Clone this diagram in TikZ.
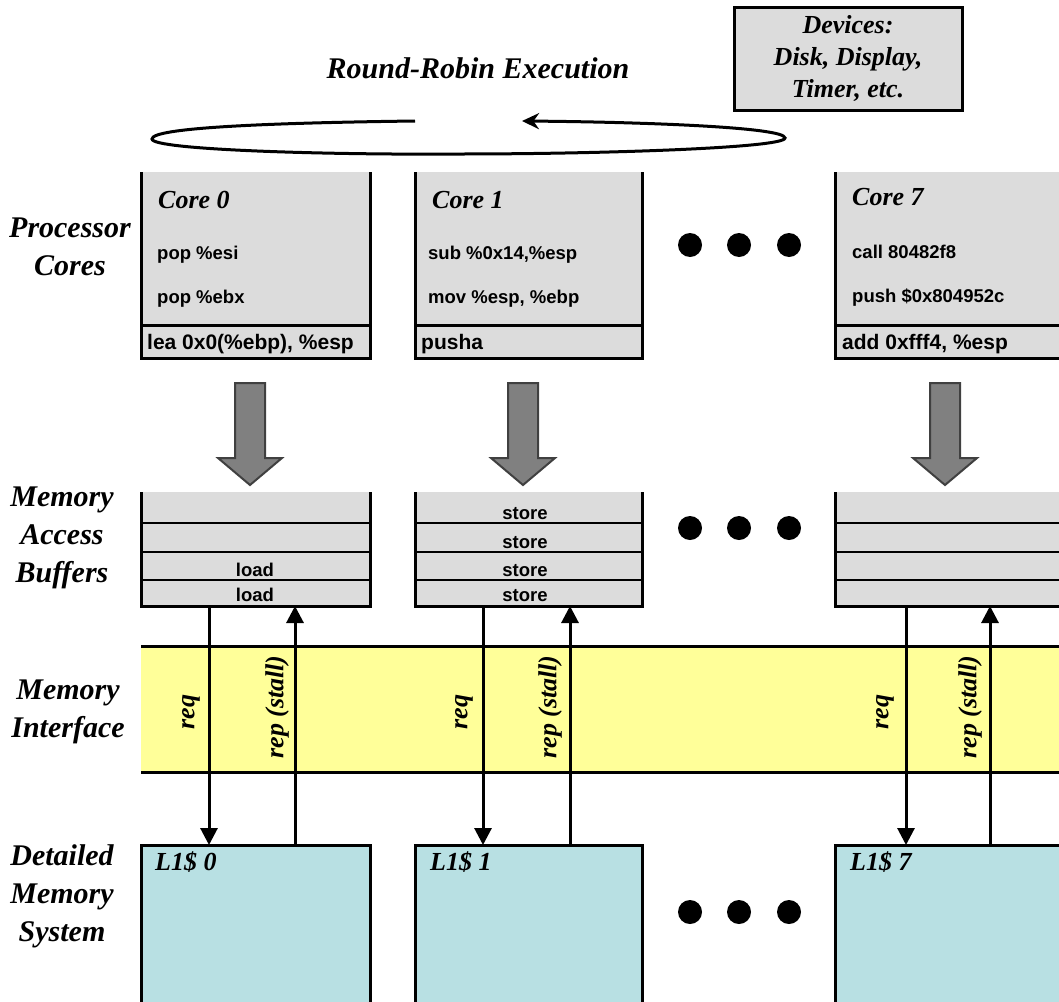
\documentclass[tikz,border=0pt]{standalone}
\usepackage{fontspec}
\setmainfont{Liberation Serif}
\setsansfont{Liberation Sans}
\usepackage{tikz}
\usetikzlibrary{positioning, arrows.meta}
\usepackage{xcolor}

\definecolor{boxgray}{RGB}{220,220,220}
\definecolor{arrowgray}{RGB}{128,128,128}
\definecolor{ifyellow}{RGB}{255,255,153}
\definecolor{cachecyan}{RGB}{184,224,227}

\newcommand\lblfont{\bfseries\itshape\fontsize{26}{32}\selectfont}
\newcommand\sidefont{\bfseries\itshape\fontsize{30}{38}\selectfont}
\newcommand\codefont{\sffamily\bfseries\fontsize{18.5}{22}\selectfont}
\newcommand\insfont{\sffamily\bfseries\fontsize{21}{24}\selectfont}

\tikzset{
  edge/.style={line width=3pt},
  rowline/.style={line width=2pt},
  corefill/.style={fill=boxgray, inner sep=0pt, outer sep=0pt, anchor=north west, minimum width=229pt, minimum height=153pt},
  instrfill/.style={fill=boxgray, inner sep=0pt, outer sep=0pt, anchor=north west, minimum width=229pt, minimum height=33pt},
  buffill/.style={fill=boxgray, inner sep=0pt, outer sep=0pt, anchor=north west, minimum width=229pt, minimum height=114pt},
  cachebox/.style={fill=cachecyan, draw, line width=3pt, inner sep=0pt, outer sep=0pt, anchor=north west, minimum width=229pt, minimum height=190pt},
  devbox/.style={fill=boxgray, draw, line width=3pt, align=center, font=\lblfont, minimum width=228pt, minimum height=103pt},
  corelbl/.style={font=\lblfont, anchor=base west, inner sep=0pt},
  sidelbl/.style={font=\sidefont, align=center, inner sep=0pt},
  code/.style={font=\codefont, anchor=base west, inner sep=0pt},
  instext/.style={font=\insfont, anchor=base west, inner sep=0pt},
  buftext/.style={font=\codefont, anchor=base, inner sep=0pt},
  sigtext/.style={font=\lblfont, rotate=90, inner sep=0pt},
  sig/.style={line width=3pt, -{Triangle[length=17pt, width=17pt]}},
  bigarrow/.style={fill=arrowgray, draw=black!75, line width=2pt, line join=miter},
  dot/.style={circle, fill=black, inner sep=0pt, minimum size=24pt},
  rrloop/.style={line width=3pt, -{Stealth[length=17pt, width=16pt]}}
}

\begin{document}
\begin{tikzpicture}[x=1pt, y=-1pt]
\useasboundingbox (0,0) rectangle (1059,1001);

% round robin
\node[font=\bfseries\itshape\fontsize{30}{34}\selectfont, inner sep=0pt] (rr) at (478,68) {Round-Robin Execution};
\draw[rrloop] (415,121) .. controls (260,123) and (152,128) .. (152,139)
  .. controls (152,150) and (330,155) .. (460,154)
  .. controls (600,154) and (785,148) .. (785,138)
  .. controls (785,127) and (640,122) .. (522,121);
\node[devbox] (dev) at (848,58.5) {Devices:\\Disk, Display,\\Timer, etc.};

% row labels
\node[sidelbl] (lpc) at (70,247) {Processor\\Cores};
\node[sidelbl] (lmab) at (62,538) {Memory\\Access\\Buffers};
\node[sidelbl] (lmi) at (68,712) {Memory\\Interface};
\node[sidelbl] (ldms) at (62,896) {Detailed\\Memory\\System};

% core 0
\node[corefill] (core0) at (141,172) {};
\node[instrfill] (ins0) at (core0.south west) {};
\draw[edge] (core0.north west) -- (ins0.south west) -- (ins0.south east) -- (core0.north east);
\draw[edge] (ins0.north west) -- (ins0.north east);
\node[corelbl] (n0) at (158,208) {Core 0};
\node[code] (c0a) at (157,259) {pop \%esi};
\node[code] (c0b) at (157,303) {pop \%ebx};
\node[instext] (c0c) at (147,349) {lea 0x0(\%ebp), \%esp};

% core 1
\node[corefill, minimum width=227pt] (core1) at (415,172) {};
\node[instrfill, minimum width=227pt] (ins1) at (core1.south west) {};
\draw[edge] (core1.north west) -- (ins1.south west) -- (ins1.south east) -- (core1.north east);
\draw[edge] (ins1.north west) -- (ins1.north east);
\node[corelbl] (n1) at (432,208) {Core 1};
\node[code] (c1a) at (428,259) {sub \%0x14,\%esp};
\node[code] (c1b) at (428,303) {mov \%esp, \%ebp};
\node[instext] (c1c) at (421,349) {pusha};

% core 7
\node[corefill, minimum width=230pt] (core7) at (835,172) {};
\node[instrfill, minimum width=230pt] (ins7) at (core7.south west) {};
\draw[edge] (core7.north west) -- (ins7.south west) -- (ins7.south east) -- (core7.north east);
\draw[edge] (ins7.north west) -- (ins7.north east);
\node[corelbl] (n7) at (852,205) {Core 7};
\node[code] (c7a) at (852,258) {call 80482f8};
\node[code] (c7b) at (852,302) {push \$0x804952c};
\node[instext] (c7c) at (842,349) {add 0xfff4, \%esp};

\node[dot] (d1) at (690,245) {};
\node[dot] (d2) at (739,245) {};
\node[dot] (d3) at (789,245) {};

% big arrows
\draw[bigarrow] (235,383) -- (265,383) -- (265,458) -- (282,458) -- (250,485) -- (218,458) -- (235,458) -- cycle;
\draw[bigarrow] (508,383) -- (538,383) -- (538,458) -- (555,458) -- (523,485) -- (491,458) -- (508,458) -- cycle;
\draw[bigarrow] (930,383) -- (960,383) -- (960,458) -- (977,458) -- (945,485) -- (913,458) -- (930,458) -- cycle;

% buffers
\node[buffill] (buf0) at (141,492) {};
\draw[rowline] (141,523) -- (370,523) (141,552) -- (370,552) (141,580) -- (370,580);
\draw[edge] (buf0.north west) -- (buf0.south west) -- (buf0.south east) -- (buf0.north east);
\node[buftext] (b0c) at (255,576) {load};
\node[buftext] (b0d) at (255,601) {load};

\node[buffill, minimum width=227pt] (buf1) at (415,492) {};
\draw[rowline] (415,523) -- (642,523) (415,552) -- (642,552) (415,580) -- (642,580);
\draw[edge] (buf1.north west) -- (buf1.south west) -- (buf1.south east) -- (buf1.north east);
\node[buftext] (b1a) at (525,519) {store};
\node[buftext] (b1b) at (525,548) {store};
\node[buftext] (b1c) at (525,576) {store};
\node[buftext] (b1d) at (525,601) {store};

\node[buffill, minimum width=230pt] (buf7) at (835,492) {};
\draw[rowline] (835,523) -- (1065,523) (835,552) -- (1065,552) (835,580) -- (1065,580);
\draw[edge] (buf7.north west) -- (buf7.south west) -- (buf7.south east) -- (buf7.north east);

\node[dot] (d4) at (690,528) {};
\node[dot] (d5) at (739,528) {};
\node[dot] (d6) at (789,528) {};

% memory interface
\fill[ifyellow] (141,646) rectangle (1065,772);
\draw[edge] (141,646) -- (1065,646) (141,772) -- (1065,772);

% caches
\node[cachebox] (l1c0) at (141,845) {};
\node[corelbl] (nl0) at (155,870) {L1\$ 0};
\node[cachebox, minimum width=227pt] (l1c1) at (415,845) {};
\node[corelbl] (nl1) at (430,870) {L1\$ 1};
\node[cachebox, minimum width=230pt] (l1c7) at (835,845) {};
\node[corelbl] (nl7) at (850,870) {L1\$ 7};

\node[dot] (d7) at (690,912) {};
\node[dot] (d8) at (739,912) {};
\node[dot] (d9) at (789,912) {};

% req / rep
\coordinate (q0) at (209,0);
\coordinate (p0) at (295,0);
\coordinate (q1) at (483,0);
\coordinate (p1) at (570,0);
\coordinate (q7) at (906,0);
\coordinate (p7) at (990,0);
\draw[sig] (buf0.south -| q0) -- (l1c0.north -| q0);
\draw[sig] (l1c0.north -| p0) -- (buf0.south -| p0);
\draw[sig] (buf1.south -| q1) -- (l1c1.north -| q1);
\draw[sig] (l1c1.north -| p1) -- (buf1.south -| p1);
\draw[sig] (buf7.south -| q7) -- (l1c7.north -| q7);
\draw[sig] (l1c7.north -| p7) -- (buf7.south -| p7);
\node[sigtext] (r0) at (191,712) {req};
\node[sigtext] (s0) at (277,707) {rep (stall)};
\node[sigtext] (r1) at (464,712) {req};
\node[sigtext] (s1) at (550,707) {rep (stall)};
\node[sigtext] (r7) at (885,712) {req};
\node[sigtext] (s7) at (970,707) {rep (stall)};
\end{tikzpicture}
\end{document}
